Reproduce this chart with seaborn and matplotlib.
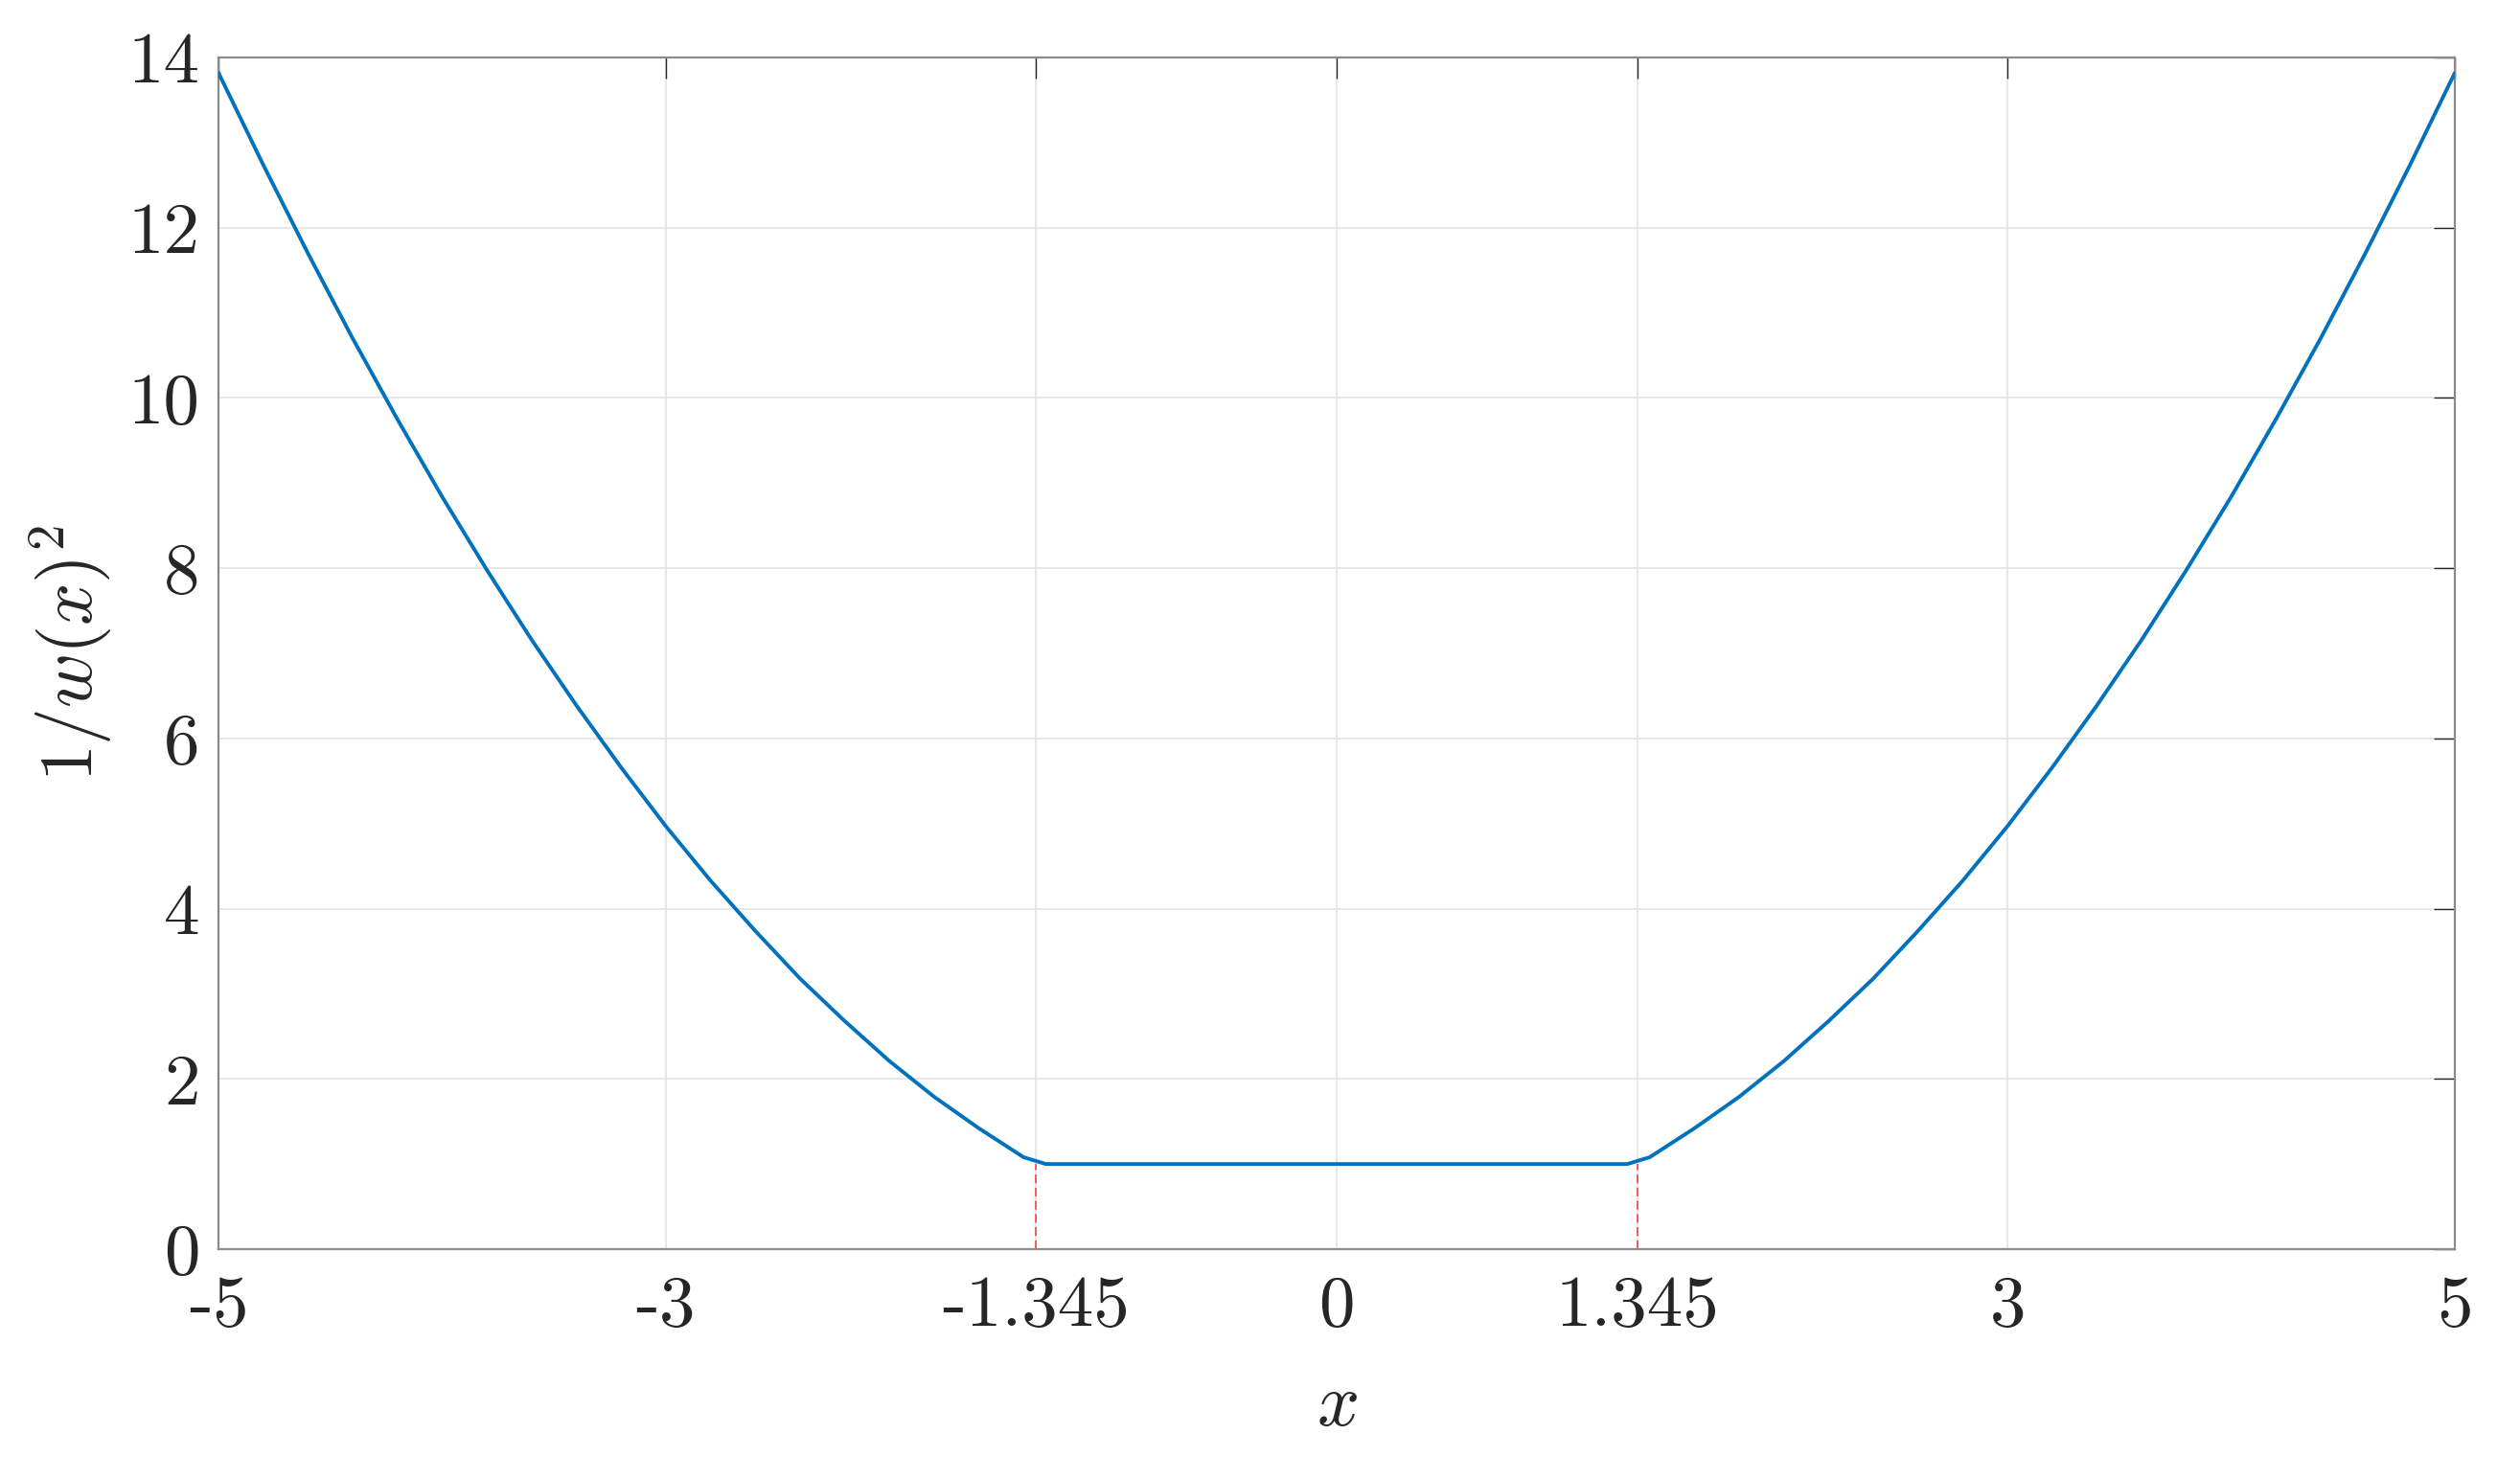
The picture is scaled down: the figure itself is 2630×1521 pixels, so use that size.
import matplotlib
matplotlib.use("Agg")
import matplotlib.pyplot as plt
import seaborn as sns
import pandas as pd

# values
x_vals = [-5.0, -4.8, -4.6, -4.4, -4.2, -4.0, -3.8, -3.6, -3.4, -3.2, -3.0,
          -2.8, -2.6, -2.4, -2.2, -2.0, -1.8, -1.6, -1.4, -1.3,
          0.0,
          1.3, 1.4, 1.6, 1.8, 2.0, 2.2, 2.4, 2.6, 2.8, 3.0,
          3.2, 3.4, 3.6, 3.8, 4.0, 4.2, 4.4, 4.6, 4.8, 5.0]
y_vals = [13.82, 12.74, 11.70, 10.70, 9.75, 8.84, 7.98, 7.16, 6.39, 5.66, 4.97,
          4.33, 3.74, 3.18, 2.68, 2.21, 1.79, 1.42, 1.08, 1.00,
          1.00,
          1.00, 1.08, 1.42, 1.79, 2.21, 2.68, 3.18, 3.74, 4.33, 4.97,
          5.66, 6.39, 7.16, 7.98, 8.84, 9.75, 10.70, 11.70, 12.74, 13.82]
cutoffs = [-1.345, 1.345]
cutoff_level = 1.0
xticks = [-5, -3, -1.345, 0, 1.345, 3, 5]
xtick_labels = ["-5", "-3", "-1.345", "0", "1.345", "3", "5"]
yticks = [0, 2, 4, 6, 8, 10, 12, 14]
ytick_labels = ["0", "2", "4", "6", "8", "10", "12", "14"]

sns.set_style("white")
plt.rcParams["font.family"] = ["cmr10", "DejaVu Serif"]
plt.rcParams["mathtext.fontset"] = "cm"
plt.rcParams["axes.unicode_minus"] = False

df = pd.DataFrame({"x": x_vals, "y": y_vals})

fig = plt.figure(figsize=(26.3, 15.21), dpi=100)
ax = fig.add_axes([228 / 2630, 1 - 1304 / 1521, (2562 - 228) / 2630, (1304 - 60) / 1521])

ax.grid(True, color="#e3e3e3", linewidth=1.2, zorder=0)
ax.set_axisbelow(True)

sns.lineplot(data=df, x="x", y="y", ax=ax, color="#0072BD", linewidth=2.8, zorder=3)
ax.vlines(cutoffs, 0, cutoff_level, colors="#ff3030", linestyles=(0, (6, 3)), linewidth=1.1, zorder=2)

ax.set_xlim(-5, 5)
ax.set_ylim(0, 14)
ax.set_xticks(xticks)
ax.set_xticklabels(xtick_labels)
ax.set_yticks(yticks)
ax.set_yticklabels(ytick_labels)

for s in ax.spines.values():
    s.set_color("#8a8a8a")
    s.set_linewidth(1.6)

ax.tick_params(axis="both", which="major", direction="in", length=15.5, width=1.0,
               color="#262626", labelsize=54, labelcolor="#262626",
               top=True, right=True)
ax.tick_params(axis="x", pad=20)
ax.tick_params(axis="y", pad=14)

ax.set_xlabel("$x$", fontsize=56, color="#262626", labelpad=25)
ax.set_ylabel("$1/w(x)^2$", fontsize=56, color="#262626", labelpad=10)

fig.savefig("out.png", dpi=100)
